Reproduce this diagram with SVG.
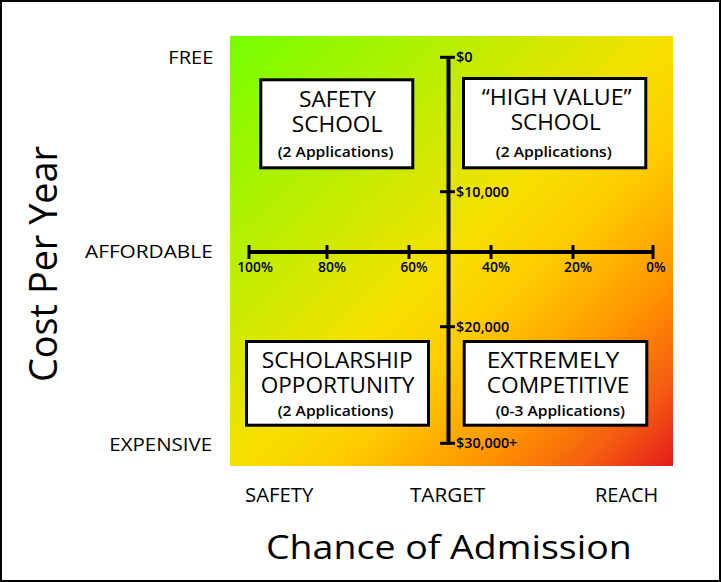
<svg xmlns="http://www.w3.org/2000/svg" width="721" height="582" viewBox="0 0 721 582">
<defs>
<linearGradient id="g" x1="0" y1="0" x2="1" y2="1">
<stop offset="0" stop-color="#74ff00"/>
<stop offset="0.5" stop-color="#f6e000"/>
<stop offset="0.62" stop-color="#ffcb00"/>
<stop offset="0.78" stop-color="#ff9400"/>
<stop offset="0.9" stop-color="#f55c10"/>
<stop offset="1" stop-color="#e31a1c"/>
</linearGradient>
<style>
text { font-family: "Open Sans", "Noto Sans", "DejaVu Sans", sans-serif; fill: #000; }
.side { font-size: 19px; font-weight: 500; text-anchor: end; }
.bot { font-size: 19.5px; font-weight: 500; text-anchor: middle; }
.title { font-size: 21px; font-weight: 500; text-anchor: middle; }
.apps { font-size: 15px; font-weight: 600; text-anchor: middle; }
.pct { font-size: 13.5px; font-weight: 600; text-anchor: middle; }
.usd { font-size: 13.5px; font-weight: 600; }
.big { font-size: 32px; font-weight: 500; }
.box { fill: #fff; stroke: #000; stroke-width: 3; }
.ax { stroke: #000; stroke-width: 4; fill: none; }
.tk { stroke: #000; stroke-width: 3; fill: none; }
</style>
</defs>
<rect x="1" y="1" width="719" height="580" fill="#fff" stroke="#000" stroke-width="2"/>
<rect id="field" x="230" y="36" width="443" height="430" fill="url(#g)"/>

<g id="axes">
<line class="ax" x1="249" y1="252" x2="653" y2="252"/>
<line class="tk" x1="249" y1="245" x2="249" y2="259"/>
<line class="tk" x1="327" y1="245" x2="327" y2="259"/>
<line class="tk" x1="409" y1="245" x2="409" y2="259"/>
<line class="tk" x1="491" y1="245" x2="491" y2="259"/>
<line class="tk" x1="573" y1="245" x2="573" y2="259"/>
<line class="tk" x1="653" y1="245" x2="653" y2="259"/>
<line class="ax" x1="448.5" y1="56" x2="448.5" y2="445"/>
<line class="tk" x1="440" y1="57.3" x2="455" y2="57.3"/>
<line class="tk" x1="440" y1="191.7" x2="455" y2="191.7"/>
<line class="tk" x1="440" y1="326.7" x2="455" y2="326.7"/>
<line class="tk" x1="440" y1="443.3" x2="455" y2="443.3"/>
<text class="pct" x="255" y="271.7" textLength="35.7" lengthAdjust="spacingAndGlyphs">100%</text>
<text class="pct" x="332" y="271.7" textLength="28" lengthAdjust="spacingAndGlyphs">80%</text>
<text class="pct" x="414" y="271.7" textLength="27" lengthAdjust="spacingAndGlyphs">60%</text>
<text class="pct" x="496" y="271.7" textLength="28" lengthAdjust="spacingAndGlyphs">40%</text>
<text class="pct" x="578" y="271.7" textLength="28" lengthAdjust="spacingAndGlyphs">20%</text>
<text class="pct" x="656" y="271.7" textLength="19.3" lengthAdjust="spacingAndGlyphs">0%</text>
<text class="usd" x="456" y="62" textLength="16.7" lengthAdjust="spacingAndGlyphs">$0</text>
<text class="usd" x="456" y="196.7" textLength="53" lengthAdjust="spacingAndGlyphs">$10,000</text>
<text class="usd" x="456" y="331.7" textLength="53.3" lengthAdjust="spacingAndGlyphs">$20,000</text>
<text class="usd" x="456" y="448" textLength="61.3" lengthAdjust="spacingAndGlyphs">$30,000+</text>
</g>

<g id="safety-school">
<rect class="box" x="260.8" y="79.8" width="152" height="88"/>
<text class="title" x="337.3" y="106.7" textLength="76.7" lengthAdjust="spacingAndGlyphs">SAFETY</text>
<text class="title" x="337" y="131.7" textLength="90.6" lengthAdjust="spacingAndGlyphs">SCHOOL</text>
<text class="apps" x="335.5" y="157.3" textLength="115.7" lengthAdjust="spacingAndGlyphs">(2 Applications)</text>
</g>

<g id="high-value-school">
<rect class="box" x="463.5" y="78.5" width="182.3" height="89.3"/>
<text class="title" x="556.7" y="105" textLength="150" lengthAdjust="spacingAndGlyphs">“HIGH VALUE”</text>
<text class="title" x="555.7" y="130" textLength="90" lengthAdjust="spacingAndGlyphs">SCHOOL</text>
<text class="apps" x="553.7" y="156.7" textLength="116" lengthAdjust="spacingAndGlyphs">(2 Applications)</text>
</g>

<g id="scholarship-opportunity">
<rect class="box" x="246.5" y="341.5" width="182" height="83.7"/>
<text class="title" x="337.2" y="368.3" textLength="151" lengthAdjust="spacingAndGlyphs">SCHOLARSHIP</text>
<text class="title" x="337.5" y="393.3" textLength="153.6" lengthAdjust="spacingAndGlyphs">OPPORTUNITY</text>
<text class="apps" x="335.5" y="416" textLength="115.7" lengthAdjust="spacingAndGlyphs">(2 Applications)</text>
</g>

<g id="extremely-competitive">
<rect class="box" x="464.2" y="341.5" width="182.6" height="83.7"/>
<text class="title" x="553" y="368" textLength="132.7" lengthAdjust="spacingAndGlyphs">EXTREMELY</text>
<text class="title" x="558" y="393" textLength="142.7" lengthAdjust="spacingAndGlyphs">COMPETITIVE</text>
<text class="apps" x="560.3" y="416" textLength="129.3" lengthAdjust="spacingAndGlyphs">(0-3 Applications)</text>
</g>

<g id="cost-labels">
<text class="side" x="213.3" y="64" textLength="45" lengthAdjust="spacingAndGlyphs">FREE</text>
<text class="side" x="212.7" y="258.3" textLength="127.7" lengthAdjust="spacingAndGlyphs">AFFORDABLE</text>
<text class="side" x="212" y="451" textLength="102.7" lengthAdjust="spacingAndGlyphs">EXPENSIVE</text>
</g>

<g id="chance-labels">
<text class="bot" x="279.2" y="502" textLength="68.3" lengthAdjust="spacingAndGlyphs">SAFETY</text>
<text class="bot" x="447.5" y="502" textLength="75" lengthAdjust="spacingAndGlyphs">TARGET</text>
<text class="bot" x="626.7" y="502" textLength="63.3" lengthAdjust="spacingAndGlyphs">REACH</text>
</g>

<text id="x-title" class="big" x="266" y="559" textLength="365.7" lengthAdjust="spacingAndGlyphs">Chance of Admission</text>
<text id="y-title" class="big" style="font-size:37.5px" transform="translate(56.5,382) rotate(-90)" x="0" y="0" textLength="236" lengthAdjust="spacingAndGlyphs">Cost Per Year</text>
</svg>
